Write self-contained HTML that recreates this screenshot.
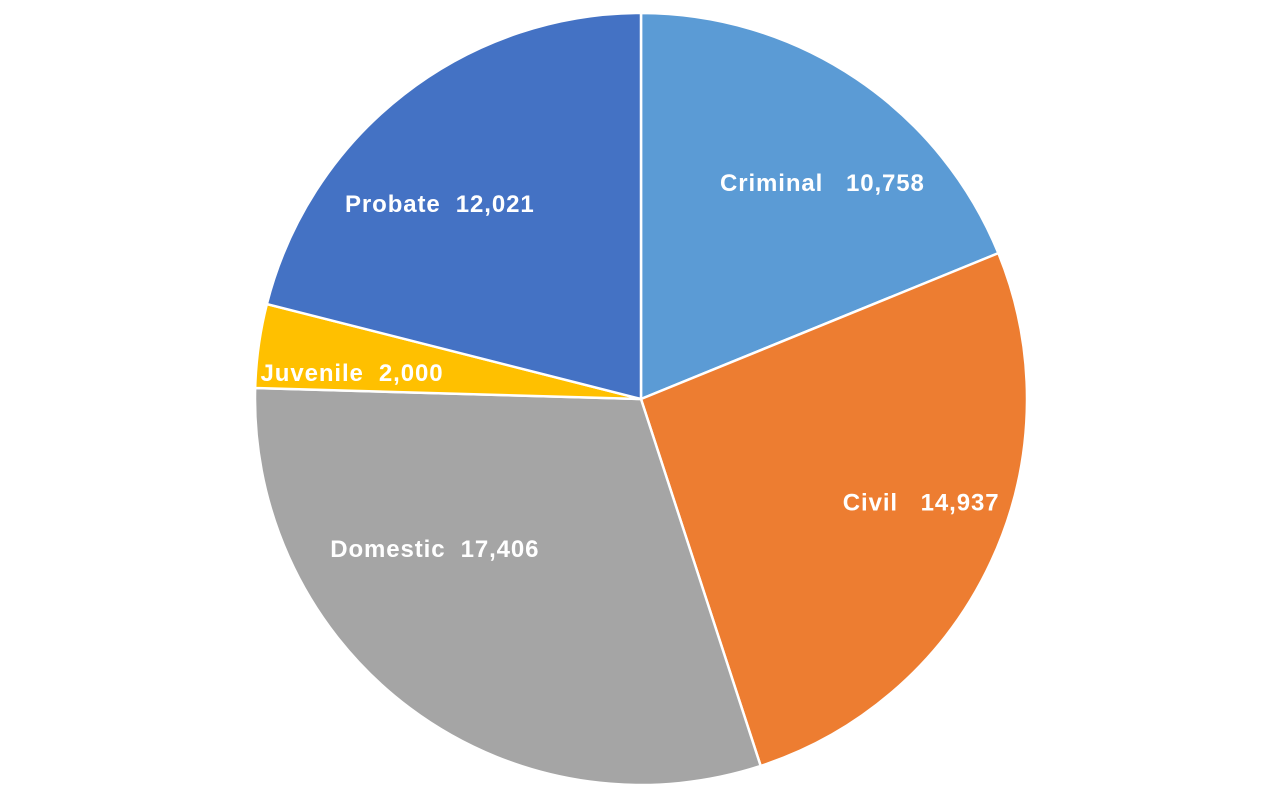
<!DOCTYPE html>
<html><head><meta charset="utf-8"><style>
html,body{margin:0;padding:0;background:#fff;width:1280px;height:800px;overflow:hidden}
svg text{font-family:"Liberation Sans",sans-serif;font-weight:bold;font-size:24px;letter-spacing:0.9px;fill:#fff;white-space:pre}
</style></head><body>
<svg id="chart" width="1280" height="800" viewBox="0 0 1280 800"></svg>
<script>
const categories = ["Criminal", "Civil", "Domestic", "Juvenile", "Probate"];
const values = [10758, 14937, 17406, 2000, 12021];
const valueLabels = ["10,758", "14,937", "17,406", "2,000", "12,021"];
const colors = ["#5b9bd5", "#ed7d31", "#a5a5a5", "#ffc000", "#4472c4"];
const separators = ["   ", "   ", "  ", "  ", "  "];
// label nudges (layout only)
const nudgeX = [35, 42, -49, -29, -40];
const nudgeY = [2, -7, -60, 10, 12];

const svg = document.getElementById('chart');
const NS = 'http://www.w3.org/2000/svg';
const cx = 641, cy = 399, R = 386;
const total = values.reduce((a, b) => a + b, 0);
function pt(frac, r) {
  const a = frac * 2 * Math.PI;
  return [cx + r * Math.sin(a), cy - r * Math.cos(a)];
}
let acc = 0;
values.forEach((v, i) => {
  const f0 = acc / total, f1 = (acc + v) / total;
  const [x0, y0] = pt(f0, R), [x1, y1] = pt(f1, R);
  const large = (f1 - f0) > 0.5 ? 1 : 0;
  const p = document.createElementNS(NS, 'path');
  p.setAttribute('d', `M${cx},${cy} L${x0},${y0} A${R},${R} 0 ${large} 1 ${x1},${y1} Z`);
  p.setAttribute('fill', colors[i]);
  p.setAttribute('stroke', '#fff');
  p.setAttribute('stroke-width', '2.5');
  
  
  svg.appendChild(p);
  acc += v;
});
acc = 0;
values.forEach((v, i) => {
  const fm = (acc + v / 2) / total;
  const [lx, ly] = pt(fm, R * 0.68);
  const t = document.createElementNS(NS, 'text');
  t.setAttribute('x', lx + nudgeX[i]);
  t.setAttribute('y', ly + 8 + nudgeY[i]);
  t.setAttribute('text-anchor', 'middle');
  t.textContent = categories[i] + separators[i] + valueLabels[i];
  
  
  svg.appendChild(t);
  acc += v;
});
</script>
</body></html>
